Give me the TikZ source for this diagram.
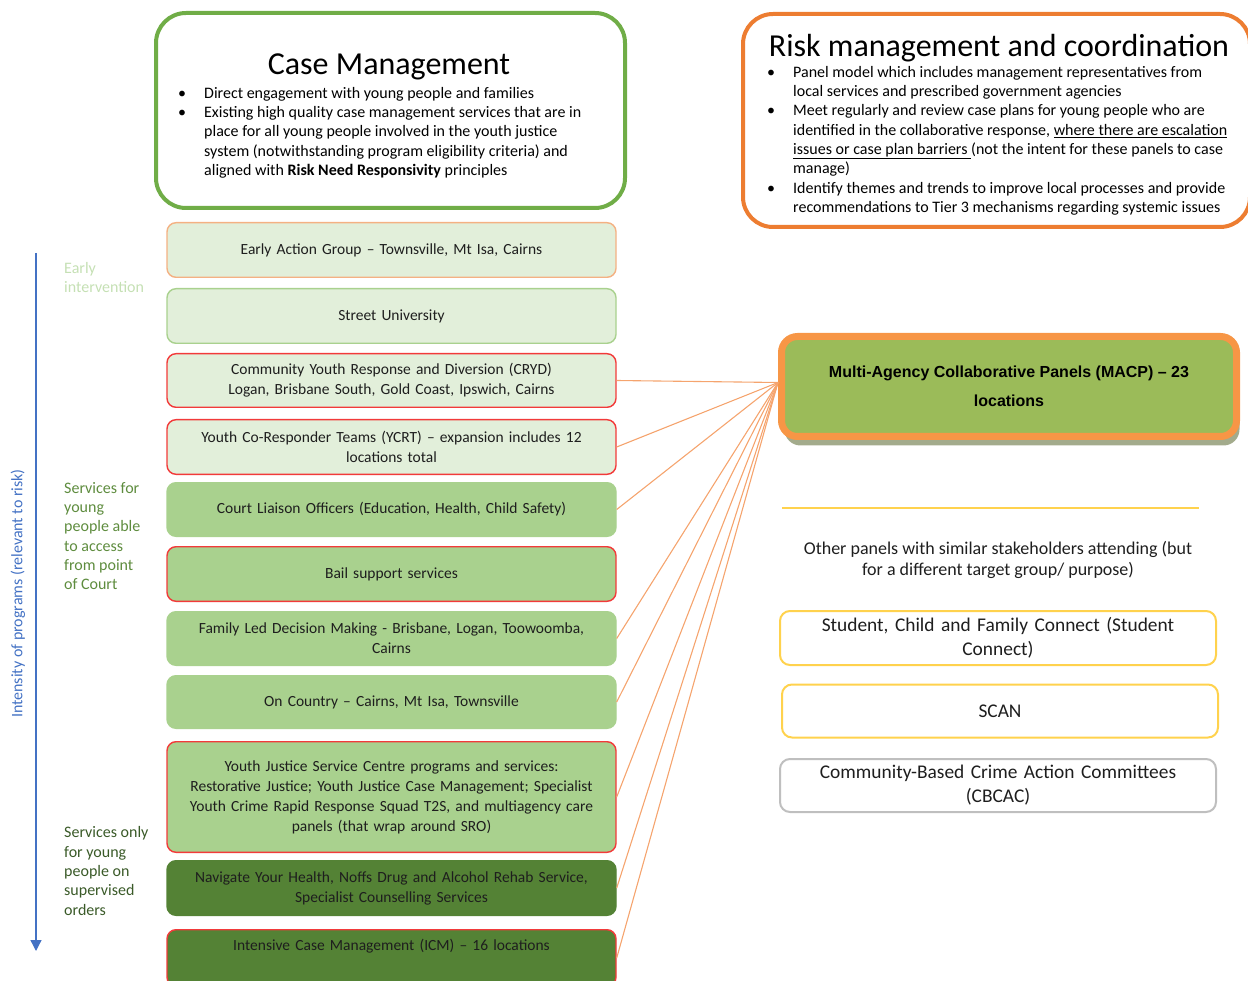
\documentclass[tikz,border=0pt]{standalone}
\usepackage{fontspec}
\setmainfont{Carlito}
\newfontfamily\arialfont{Liberation Sans}
\usetikzlibrary{arrows.meta,shadows}

\definecolor{paleGreen}{HTML}{E2EFDA}
\definecolor{midGreen}{HTML}{A9D18E}
\definecolor{darkGreen}{HTML}{548235}
\definecolor{alertRed}{HTML}{F23A3A}
\definecolor{softOrange}{HTML}{F4B183}
\definecolor{caseGreen}{HTML}{70AD47}
\definecolor{riskOrange}{HTML}{ED7D31}
\definecolor{macpFill}{HTML}{9BBB59}
\definecolor{macpEdge}{HTML}{F79646}
\definecolor{macpShade}{HTML}{A3AB8C}
\definecolor{linkOrange}{HTML}{F5A46E}
\definecolor{goldEdge}{HTML}{FFD24D}
\definecolor{greyEdge}{HTML}{BFBFBF}
\definecolor{axisBlue}{HTML}{4472C4}
\definecolor{inkGrey}{HTML}{1E1E1E}
\definecolor{earlyText}{HTML}{C5E0B4}
\definecolor{courtText}{HTML}{5E8C3E}
\definecolor{ordersText}{HTML}{3A5A28}

\newcommand{\bul}{\makebox[26pt][l]{•}}
\newcommand{\ind}{\hspace*{26pt}}

\begin{document}
\begin{tikzpicture}[x=1pt,y=-1pt,
  program/.style={draw, rounded corners=9pt, line width=1.4pt,
    minimum width=449pt, text width=440pt, align=center, inner sep=0pt,
    text=inkGrey, font=\fontsize{15.5}{20}\selectfont},
  panel/.style={draw, rounded corners=10pt, line width=2pt, fill=white,
    minimum width=436pt, text width=425pt, align=center, inner sep=0pt,
    text=inkGrey, font=\fontsize{19.4}{24}\selectfont},
  bigbox/.style={draw, rounded corners=30pt, line width=4pt, fill=white, inner sep=0pt},
  bullets/.style={anchor=north west, align=left, inner sep=0pt, text=black,
    font=\fontsize{16}{19.3}\selectfont},
  heading/.style={inner sep=0pt, text=black, font=\fontsize{32}{38}\selectfont},
  sidenote/.style={anchor=west, align=left, inner sep=0pt,
    font=\fontsize{16}{19.3}\selectfont},
  link/.style={draw=linkOrange, line width=1.1pt},
  axis/.style={draw=axisBlue, line width=1.3pt, -{Triangle[width=11pt,length=11pt]}}
]
\useasboundingbox (0,0) rectangle (1248,981);
\clip (0,0) rectangle (1248,981);

% --- Case management panel ---
\node[bigbox, draw=caseGreen, minimum width=469pt, minimum height=195pt] (casebox) at (390.5,110.5) {};
\node[heading] (casetitle) at (389,67) {Case Management};
\node[bullets] (casepoints) at (178,87) {%
\bul Direct engagement with young people and families\\
\bul Existing high quality case management services that are in\\
\ind place for all young people involved in the youth justice\\
\ind system (notwithstanding program eligibility criteria) and\\
\ind aligned with \textbf{Risk Need Responsivity} principles};

% --- Risk management panel ---
\node[bigbox, draw=riskOrange, minimum width=507pt, minimum height=213pt] (riskbox) at (996.5,120.5) {};
\node[heading] (risktitle) at (999,48) {Risk management and coordination};
\node[bullets] (riskpoints) at (767,66) {%
\bul Panel model which includes management representatives from\\
\ind local services and prescribed government agencies\\
\bul Meet regularly and review case plans for young people who are\\
\ind identified in the collaborative response, \underline{where there are escalation}\\
\ind \underline{issues or case plan barriers }(not the intent for these panels to case\\
\ind manage)\\
\bul Identify themes and trends to improve local processes and provide\\
\ind recommendations to Tier 3 mechanisms regarding systemic issues};

% --- Program column ---
\node[program, draw=softOrange, fill=paleGreen, minimum height=54.6pt] (eag) at (391.5,250) {Early Action Group – Townsville, Mt Isa, Cairns};
\node[program, draw=midGreen, fill=paleGreen, minimum height=54.6pt] (street) at (391.5,316) {Street University};
\node[program, draw=alertRed, fill=paleGreen, minimum height=53.6pt] (cryd) at (391.5,380.5) {Community Youth Response and Diversion (CRYD)\\Logan, Brisbane South, Gold Coast, Ipswich, Cairns};
\node[program, draw=alertRed, fill=paleGreen, minimum height=54.6pt] (ycrt) at (391.5,447) {Youth Co-Responder Teams (YCRT) – expansion includes 12\\locations total};
\node[program, draw=midGreen, fill=midGreen, minimum height=53.6pt] (clo) at (391.5,509.5) {Court Liaison Officers (Education, Health, Child Safety)};
\node[program, draw=alertRed, fill=midGreen, minimum height=54.6pt] (bail) at (391.5,574) {Bail support services};
\node[program, draw=midGreen, fill=midGreen, minimum height=53.6pt] (fldm) at (391.5,638.5) {Family Led Decision Making - Brisbane, Logan, Toowoomba,\\Cairns};
\node[program, draw=midGreen, fill=midGreen, minimum height=52.6pt] (country) at (391.5,702) {On Country – Cairns, Mt Isa, Townsville};
\node[program, draw=alertRed, fill=midGreen, minimum height=110.6pt] (yjsc) at (391.5,797) {Youth Justice Service Centre programs and services:\\Restorative Justice; Youth Justice Case Management; Specialist\\Youth Crime Rapid Response Squad T2S, and multiagency care\\panels (that wrap around SRO)};
\node[program, draw=darkGreen, fill=darkGreen, minimum height=54.6pt] (navigate) at (391.5,888) {Navigate Your Health, Noffs Drug and Alcohol Rehab Service,\\Specialist Counselling Services};
\node[program, draw=alertRed, fill=darkGreen, minimum height=56.6pt] (icm) at (391.5,958) {Intensive Case Management (ICM) – 16 locations\\\strut};

% --- Side notes and intensity axis ---
\coordinate (axtop) at (36,253);
\coordinate (axbot) at (36,951);
\draw[axis] (axtop) -- (axbot);
\node[rotate=90, inner sep=0pt, text=axisBlue, font=\fontsize{16}{19}\selectfont] (axislabel) at (18,593.5) {Intensity of programs (relevant to risk)};
\node[sidenote, text=earlyText] (early) at (64,277.5) {Early\\intervention};
\node[sidenote, text=courtText] (court) at (64,536) {Services for\\young\\people able\\to access\\from point\\of Court};
\node[sidenote, text=ordersText] (orders) at (64,871) {Services only\\for young\\people on\\supervised\\orders};

% --- Multi-agency panels ---
\node[draw=macpEdge, fill=macpFill, line width=7pt, rounded corners=16pt,
  minimum width=455pt, minimum height=100pt, align=center, inner sep=0pt,
  drop shadow={shadow xshift=3pt, shadow yshift=-9pt, fill=macpShade, opacity=1},
  font=\arialfont\bfseries\fontsize{16}{29}\selectfont] (macp) at (1009,386.5)
  {Multi-Agency Collaborative Panels (MACP) – 23\\locations};
\coordinate (hub) at ([yshift=4pt]macp.west);

\foreach \src in {cryd,ycrt,clo,fldm,country,yjsc,navigate,icm}
  \draw[link] (\src.east) -- (hub);

% --- Other panels ---
\coordinate (sepL) at (782,508);
\coordinate (sepR) at (1199,508);
\draw[draw=goldEdge, line width=1.8pt] (sepL) -- (sepR);
\node[inner sep=0pt, align=center, text=inkGrey, font=\fontsize{18}{21}\selectfont] (otherpanels) at (998,560)
  {Other panels with similar stakeholders attending (but\\for a different target group/ purpose)};
\node[panel, draw=goldEdge, minimum height=54pt] (student) at (998,638) {Student, Child and Family Connect (Student\\Connect)};
\node[panel, draw=goldEdge, minimum height=53pt] (scan) at (1000,711) {SCAN};
\node[panel, draw=greyEdge, minimum height=53pt] (cbcac) at (998,785.5) {Community-Based Crime Action Committees\\(CBCAC)};
\end{tikzpicture}
\end{document}
